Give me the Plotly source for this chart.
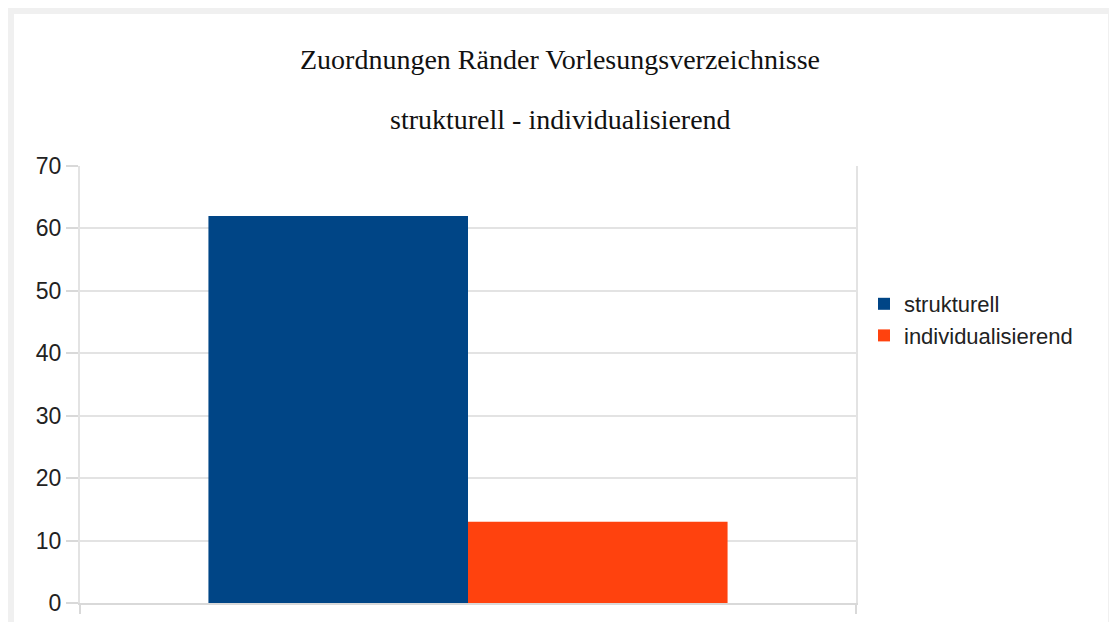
import plotly.graph_objects as go

categories = [""]
series_names = ["strukturell", "individualisierend"]
strukturell = [62]
individualisierend = [13]
colors = ["#004586", "#ff420e"]
y_ticks = [0, 10, 20, 30, 40, 50, 60, 70]
title_line1 = "Zuordnungen Ränder Vorlesungsverzeichnisse"
title_line2 = "strukturell - individualisierend"

W, H = 1109, 622
L, R, T, B = 80, 253, 166, 19
pw, ph = W - L - R, H - T - B

def px_x(p):
    return (p - L) / pw

def px_y(p):
    return (H - B - p) / ph

fig = go.Figure()
for name, vals, col in zip(series_names, [strukturell, individualisierend], colors):
    fig.add_trace(go.Bar(x=categories, y=vals, name=name, marker=dict(color=col, line=dict(width=0))))

fig.update_layout(
    width=W, height=H,
    margin=dict(l=L, r=R, t=T, b=B, pad=0, autoexpand=False),
    paper_bgcolor="white", plot_bgcolor="white",
    barmode="group", bargap=0.331, bargroupgap=0,
    font=dict(family="Liberation Sans", color="#222222"),
    showlegend=True,
    legend=dict(x=px_x(864), y=px_y(320), xanchor="left", yanchor="middle",
                font=dict(family="Liberation Sans", size=22, color="#222222"),
                bgcolor="rgba(0,0,0,0)", tracegroupgap=0, itemwidth=30),
    xaxis=dict(type="category", range=[-0.5, 0.5], showticklabels=False, automargin=False,
               showline=True, linecolor="#d9d9d9", linewidth=2,
               ticks="outside", tickson="boundaries", ticklen=9, tickcolor="#d9d9d9", tickwidth=2,
               showgrid=False, zeroline=False, fixedrange=True),
    yaxis=dict(range=[0, 70], tickvals=y_ticks, ticktext=[str(v) for v in y_ticks], automargin=False,
               showline=True, linecolor="#e3e3e3", linewidth=2, mirror=True,
               ticks="outside", ticklen=12, tickcolor="#d9d9d9", tickwidth=2,
               showgrid=True, gridcolor="#e3e3e3", gridwidth=2,
               zeroline=False,
               tickfont=dict(family="Liberation Sans", size=23, color="#222222")),
)

fig.add_annotation(text=title_line1, xref="paper", yref="paper", x=px_x(560), y=px_y(60),
                   xanchor="center", yanchor="middle", showarrow=False,
                   font=dict(family="Liberation Serif", size=28, color="#111111"))
fig.add_annotation(text=title_line2, xref="paper", yref="paper", x=px_x(560), y=px_y(120),
                   xanchor="center", yanchor="middle", showarrow=False,
                   font=dict(family="Liberation Serif", size=28, color="#111111"))

fig.add_shape(type="rect", xref="paper", yref="paper",
              x0=px_x(11), x1=px_x(1111), y0=px_y(640), y1=px_y(11),
              line=dict(color="#f0f0f0", width=6), fillcolor="rgba(0,0,0,0)", layer="below")

fig.write_html("out.html")
